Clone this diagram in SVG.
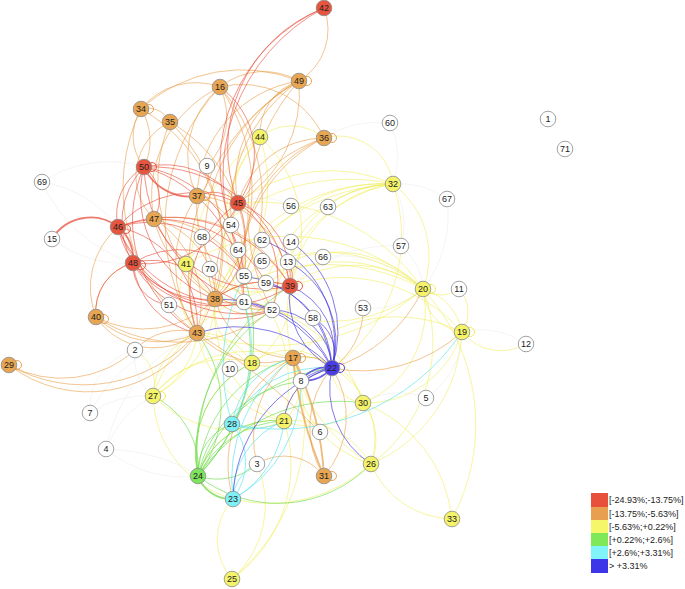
<svg xmlns="http://www.w3.org/2000/svg" width="685" height="589" viewBox="0 0 685 589">
<style>
.e path{fill:none;stroke-width:.85}
.r path{stroke:#e84a36;opacity:.72}
.o path{stroke:#e8993f;opacity:.68}
.y path{stroke:#f0ec48;opacity:.62}
.g path{stroke:#66da44;opacity:.72}
.c path{stroke:#5ee4ee;opacity:.8}
.b path{stroke:#3a2ee0;opacity:.75}
.w path{stroke:#ececec;opacity:.7}
path.t{stroke-width:1.8}
.lp circle{fill:none;stroke-width:.9}
.nd circle{stroke:#8c8c8c;stroke-width:.8}
.R{fill:#e8553f}.O{fill:#e8a552}.Y{fill:#f4f36a}.G{fill:#7ee35d}.C{fill:#7ff0f5}.B{fill:#4b3ee6}.W{fill:#fff}
text{font-family:"Liberation Sans",Arial,sans-serif;font-size:9px;fill:#222}
.nd text{text-anchor:middle}
</style>
<rect width="685" height="589" fill="#fff"/>
<g id="connectors">
<g class="e w">
<path d="M90 413A100 100 0 0 1 153 396"/><path d="M90 413A150 150 0 0 1 197 333"/><path d="M90 413A60 60 0 0 1 135 350"/>
<path d="M106 449A100 100 0 0 1 153 396"/><path d="M106 449A120 120 0 0 0 198 476"/><path d="M106 449A160 160 0 0 1 197 333"/>
<path d="M135 350A50 50 0 0 0 153 396"/><path d="M42 182A120 120 0 0 1 118 227"/><path d="M42 182A120 120 0 0 1 144 167"/>
<path d="M42 182A150 150 0 0 0 133 263"/><path d="M52 239A120 120 0 0 0 133 263"/><path d="M390 123A80 80 0 0 1 393 184"/>
<path d="M390 123A100 100 0 0 0 324 138"/><path d="M447 199A80 80 0 0 0 393 184"/><path d="M447 199A120 120 0 0 1 423 289"/>
<path d="M401 246A60 60 0 0 1 423 289"/><path d="M401 246A80 80 0 0 0 393 184"/><path d="M401 246A150 150 0 0 0 290 286"/>
<path d="M526 344A80 80 0 0 0 462 332"/><path d="M426 398A80 80 0 0 0 462 332"/><path d="M426 398A70 70 0 0 0 363 403"/>
<path d="M363 308A80 80 0 0 0 423 289"/><path d="M328 207A90 90 0 0 1 393 184"/><path d="M291 206A60 60 0 0 0 238 203"/>
<path d="M291 242A60 60 0 0 1 290 286"/><path d="M323 257A120 120 0 0 1 423 289"/><path d="M230 369A50 50 0 0 1 197 333"/>
<path d="M169 305A40 40 0 0 1 197 333"/><path d="M106 449A200 200 0 0 1 233 499"/>
</g>
<g class="e y">
<path d="M260 137A50 50 0 0 1 324 138"/><path d="M324 138A55 55 0 0 1 393 184"/><path d="M260 137A120 120 0 0 0 244 276"/>
<path d="M260 137A180 180 0 0 0 197 333"/><path d="M260 137A150 150 0 0 1 215 299"/><path d="M260 137A130 130 0 0 1 290 286"/>
<path d="M260 137A140 140 0 0 0 244 302"/><path d="M393 184A150 150 0 0 0 244 276"/><path d="M393 184A120 120 0 0 0 290 286"/>
<path d="M393 184A140 140 0 0 0 266 283"/><path d="M393 184A150 150 0 0 0 272 310"/><path d="M393 184A180 180 0 0 0 215 299"/>
<path d="M393 184A220 220 0 0 0 197 333"/><path d="M393 184A110 110 0 0 0 288 262"/><path d="M393 184A200 200 0 0 0 186 264"/>
<path d="M393 184A90 90 0 0 1 423 289"/><path d="M393 184A160 160 0 0 1 332 368"/><path d="M393 184A150 150 0 0 0 238 203"/>
<path d="M423 289A30 30 0 0 0 459 289"/><path d="M423 289A45 45 0 0 0 462 332"/><path d="M423 289A55 55 0 0 1 462 332"/>
<path d="M462 332A35 35 0 0 0 459 289"/><path d="M462 332A50 50 0 0 0 526 344"/><path d="M423 289A150 150 0 0 0 244 276"/>
<path d="M423 289A110 110 0 0 0 290 286"/><path d="M423 289A120 120 0 0 0 288 262"/><path d="M423 289A140 140 0 0 0 266 283"/>
<path d="M423 289A150 150 0 0 1 272 310"/><path d="M423 289A200 200 0 0 0 215 299"/><path d="M423 289A230 230 0 0 1 197 333"/>
<path d="M423 289A100 100 0 0 1 363 403"/><path d="M423 289A150 150 0 0 1 371 464"/><path d="M423 289A200 200 0 0 0 238 203"/>
<path d="M462 332A100 100 0 0 1 363 403"/><path d="M462 332A150 150 0 0 1 371 464"/><path d="M462 332A150 150 0 0 0 293 358"/>
<path d="M462 332A160 160 0 0 0 290 286"/><path d="M363 403A60 60 0 0 1 371 464"/><path d="M363 403A35 35 0 0 1 332 368"/>
<path d="M363 403A70 70 0 0 1 284 421"/><path d="M363 403A60 60 0 0 0 293 358"/><path d="M363 403A150 150 0 0 0 215 299"/>
<path d="M371 464A90 90 0 0 0 452 519"/><path d="M423 289A200 200 0 0 1 452 519"/><path d="M363 403A140 140 0 0 1 452 519"/>
<path d="M371 464A110 110 0 0 1 293 358"/><path d="M371 464A80 80 0 0 0 332 368"/><path d="M371 464A90 90 0 0 0 284 421"/>
<path d="M371 464A170 170 0 0 1 290 286"/><path d="M371 464A150 150 0 0 1 233 499"/><path d="M284 421A50 50 0 0 0 293 358"/>
<path d="M284 421A80 80 0 0 0 198 476"/><path d="M284 421A120 120 0 0 1 215 299"/><path d="M284 421A110 110 0 0 1 197 333"/>
<path d="M284 421A150 150 0 0 0 244 276"/><path d="M284 421A60 60 0 0 1 332 368"/><path d="M252 363A60 60 0 0 1 215 299"/>
<path d="M252 363A40 40 0 0 0 293 358"/><path d="M252 363A60 60 0 0 0 197 333"/><path d="M252 363A80 80 0 0 0 290 286"/>
<path d="M252 363A100 100 0 0 0 198 476"/><path d="M252 363A60 60 0 0 1 332 368"/><path d="M153 396A40 40 0 0 0 135 350"/>
<path d="M153 396A70 70 0 0 1 197 333"/><path d="M153 396A80 80 0 0 0 197 333"/><path d="M153 396A110 110 0 0 0 215 299"/>
<path d="M153 396A130 130 0 0 1 293 358"/><path d="M153 396A90 90 0 0 1 252 363"/><path d="M153 396A120 120 0 0 0 284 421"/>
<path d="M153 396A110 110 0 0 0 233 499"/><path d="M153 396A160 160 0 0 1 290 286"/><path d="M232 579A60 60 0 0 1 233 499"/>
<path d="M232 579A140 140 0 0 0 284 421"/><path d="M232 579A200 200 0 0 0 293 358"/><path d="M232 579A100 100 0 0 0 257 464"/>
<path d="M186 264A100 100 0 0 0 290 286"/><path d="M186 264A60 60 0 0 0 197 333"/><path d="M186 264A90 90 0 0 0 272 310"/>
<path d="M186 264A200 200 0 0 1 423 289"/>
</g>
<g class="e o">
<path d="M141 109A70 70 0 0 1 220 87"/><path d="M141 109A150 150 0 0 1 299 81"/><path d="M220 87A90 90 0 0 1 324 138"/>
<path d="M141 109A25 25 0 0 1 170 122"/><path d="M141 109A50 50 0 0 0 144 167"/><path d="M141 109A60 60 0 0 1 144 167"/>
<path d="M141 109A180 180 0 0 0 197 333"/><path d="M141 109A160 160 0 0 1 215 299"/><path d="M170 122A170 170 0 0 1 197 333"/>
<path d="M170 122A150 150 0 0 0 215 299"/><path d="M170 122A150 150 0 0 1 244 276"/><path d="M220 87A90 90 0 0 0 197 196"/>
<path d="M220 87A70 70 0 0 1 207 166"/><path d="M220 87A200 200 0 0 0 197 333"/><path d="M220 87A180 180 0 0 1 215 299"/>
<path d="M220 87A170 170 0 0 1 244 276"/><path d="M299 81A60 60 0 0 0 324 8"/><path d="M299 81A70 70 0 0 0 220 87"/>
<path d="M299 81A55 55 0 0 0 260 137"/><path d="M299 81A110 110 0 0 0 238 203"/><path d="M299 81A130 130 0 0 1 238 203"/>
<path d="M299 81A120 120 0 0 0 197 196"/><path d="M299 81A180 180 0 0 0 215 299"/><path d="M299 81A160 160 0 0 0 244 276"/>
<path d="M299 81A220 220 0 0 0 197 333"/><path d="M324 138A130 130 0 0 0 244 276"/><path d="M324 138A150 150 0 0 0 244 302"/>
<path d="M324 138A160 160 0 0 0 215 299"/><path d="M324 138A90 90 0 0 0 238 203"/><path d="M197 196A100 100 0 0 1 290 286"/>
<path d="M197 196A120 120 0 0 0 197 333"/><path d="M197 196A70 70 0 0 1 244 276"/><path d="M197 196A110 110 0 0 0 272 310"/>
<path d="M197 196A25 25 0 0 0 207 166"/><path d="M154 219A100 100 0 0 1 197 333"/><path d="M154 219A130 130 0 0 1 290 286"/>
<path d="M154 219A120 120 0 0 0 272 310"/><path d="M154 219A80 80 0 0 1 215 299"/><path d="M154 219A100 100 0 0 1 244 276"/>
<path d="M96 317A90 90 0 0 0 197 333"/><path d="M96 317A70 70 0 0 0 197 333"/><path d="M96 317A80 80 0 0 1 118 227"/>
<path d="M96 317A50 50 0 0 1 133 263"/><path d="M96 317A100 100 0 0 0 215 299"/><path d="M96 317A150 150 0 0 0 272 310"/>
<path d="M9 365A150 150 0 0 0 197 333"/><path d="M9 365A130 130 0 0 0 197 333"/><path d="M9 365A110 110 0 0 0 135 350"/>
<path d="M197 333A60 60 0 0 0 135 350"/><path d="M215 299A50 50 0 0 0 272 310"/><path d="M215 299A80 80 0 0 1 290 286"/>
<path d="M197 333A90 90 0 0 0 293 358"/><path d="M197 333A600 600 0 0 1 320 432"/><path class="t" d="M293 358A300 300 0 0 1 324 476"/>
<path class="t" d="M293 358A400 400 0 0 0 324 476"/><path d="M293 358A30 30 0 0 1 301 381"/><path d="M293 358A40 40 0 0 1 332 368"/>
<path d="M293 358A120 120 0 0 0 233 499"/><path d="M293 358A100 100 0 0 0 257 464"/><path d="M324 476A50 50 0 0 0 257 464"/>
<path d="M324 476A90 90 0 0 1 332 368"/><path d="M324 476A90 90 0 0 0 332 368"/><path d="M423 289A150 150 0 0 1 332 368"/>
<path d="M462 332A150 150 0 0 1 332 368"/><path d="M363 308A70 70 0 0 1 332 368"/><path d="M170 122A60 60 0 0 0 154 219"/>
<path d="M220 87A120 120 0 0 0 154 219"/><path d="M299 81A200 200 0 0 0 272 310"/><path d="M215 299A80 80 0 0 0 293 358"/>
</g>
<g class="e r">
<path d="M324 8A150 150 0 0 0 238 203"/><path d="M324 8A170 170 0 0 0 231 225"/><path d="M324 8A190 190 0 0 0 238 250"/>
<path d="M238 203A82 82 0 0 0 220 87"/><path class="t" d="M144 167A50 50 0 0 0 197 196"/><path class="t" d="M118 227A45 45 0 0 0 52 239"/>
<path d="M144 167A55 55 0 0 0 118 227"/><path d="M144 167A80 80 0 0 0 133 263"/><path d="M144 167A140 140 0 0 1 290 286"/>
<path d="M144 167A120 120 0 0 1 244 276"/><path d="M144 167A110 110 0 0 0 215 299"/><path d="M144 167A130 130 0 0 0 197 333"/>
<path d="M144 167A140 140 0 0 1 244 302"/><path d="M118 227A140 140 0 0 1 290 286"/><path d="M118 227A110 110 0 0 1 244 276"/>
<path d="M118 227A130 130 0 0 0 272 310"/><path d="M118 227A90 90 0 0 0 215 299"/><path d="M118 227A120 120 0 0 1 266 283"/>
<path d="M133 263A120 120 0 0 0 290 286"/><path d="M133 263A110 110 0 0 0 272 310"/><path d="M133 263A100 100 0 0 0 244 302"/>
<path d="M133 263A80 80 0 0 0 197 333"/><path d="M133 263A40 40 0 0 0 169 305"/><path d="M133 263A50 50 0 0 0 96 317"/>
<path d="M238 203A80 80 0 0 1 290 286"/><path d="M238 203A100 100 0 0 0 118 227"/><path d="M238 203A100 100 0 0 1 133 263"/>
<path d="M238 203A110 110 0 0 0 197 333"/><path d="M238 203A80 80 0 0 1 215 299"/><path d="M238 203A90 90 0 0 1 272 310"/>
<path d="M290 286A120 120 0 0 1 154 219"/><path d="M144 167A40 40 0 0 1 154 219"/><path d="M238 203A35 35 0 0 0 197 196"/>
<path d="M118 227A100 100 0 0 1 197 333"/><path d="M133 263A90 90 0 0 1 244 276"/><path d="M118 227A120 120 0 0 0 244 302"/>
<path d="M144 167A150 150 0 0 0 272 310"/><path d="M133 263A70 70 0 0 1 215 299"/><path class="t" d="M118 227A40 40 0 0 1 133 263"/>
<path d="M290 286A25 25 0 0 0 288 262"/><path d="M290 286A30 30 0 0 1 266 283"/><path d="M290 286A80 80 0 0 0 215 299"/>
<path d="M144 167A90 90 0 0 1 238 203"/>
</g>
<g class="e g">
<path d="M198 476A50 50 0 0 1 232 424"/><path d="M198 476A80 80 0 0 1 284 421"/><path d="M198 476A100 100 0 0 1 284 421"/>
<path d="M198 476A120 120 0 0 1 301 381"/><path d="M198 476A130 130 0 0 1 293 358"/><path d="M198 476A160 160 0 0 1 332 368"/>
<path class="t" d="M198 476A35 35 0 0 0 233 499"/><path d="M198 476A130 130 0 0 0 371 464"/><path d="M198 476A120 120 0 0 0 197 333"/>
<path d="M198 476A80 80 0 0 0 153 396"/><path d="M198 476A200 200 0 0 1 290 286"/><path d="M198 476A170 170 0 0 1 272 310"/>
<path d="M198 476A100 100 0 0 1 252 363"/><path d="M198 476A170 170 0 0 1 363 403"/><path d="M198 476A60 60 0 0 0 257 464"/>
<path d="M198 476A200 200 0 0 0 244 276"/><path d="M198 476A180 180 0 0 0 244 302"/>
</g>
<g class="e c">
<path d="M233 499A60 60 0 0 0 232 424"/><path d="M233 499A80 80 0 0 1 284 421"/><path d="M233 499A100 100 0 0 0 284 421"/>
<path d="M233 499A40 40 0 0 1 257 464"/><path d="M233 499A130 130 0 0 0 301 381"/><path d="M232 424A60 60 0 0 0 284 421"/>
<path d="M232 424A80 80 0 0 1 293 358"/><path d="M232 424A200 200 0 0 1 244 276"/><path d="M462 332A220 220 0 0 1 232 424"/>
<path d="M232 424A100 100 0 0 1 332 368"/><path d="M233 499A150 150 0 0 1 293 358"/><path d="M232 424A150 150 0 0 0 244 302"/>
</g>
<g class="e b">
<path class="t" d="M332 368A30 30 0 0 0 301 381"/><path class="t" d="M332 368A40 40 0 0 1 301 381"/><path d="M332 368A60 60 0 0 0 301 381"/>
<path d="M332 368A70 70 0 0 0 290 286"/><path d="M332 368A90 90 0 0 0 288 262"/><path d="M332 368A40 40 0 0 0 313 318"/>
<path d="M332 368A110 110 0 0 0 262 240"/><path d="M332 368A110 110 0 0 0 291 242"/><path d="M332 368A130 130 0 0 0 197 333"/>
<path d="M332 368A130 130 0 0 0 215 299"/><path d="M332 368A60 60 0 0 0 272 310"/><path d="M332 368A100 100 0 0 0 244 276"/>
<path d="M332 368A90 90 0 0 0 371 464"/><path d="M332 368A140 140 0 0 0 233 499"/><path d="M332 368A60 60 0 0 0 284 421"/>
<path d="M332 368A90 90 0 0 0 266 283"/><path d="M332 368A110 110 0 0 0 244 302"/><path d="M332 368A80 80 0 0 1 290 286"/>
</g>
<g class="lp">
<circle cx="149" cy="109" r="4.5" stroke="#e89a44"/><circle cx="307" cy="81" r="4.5" stroke="#e89a44"/><circle cx="332" cy="138" r="4.5" stroke="#e89a44"/>
<circle cx="152" cy="167" r="4.5" stroke="#e84a36"/><circle cx="126" cy="229" r="4.5" stroke="#e84a36"/><circle cx="141" cy="265" r="4.5" stroke="#e84a36"/>
<circle cx="104" cy="319" r="4.5" stroke="#e89a44"/><circle cx="17" cy="365" r="4.5" stroke="#e89a44"/><circle cx="340" cy="368" r="4.5" stroke="#3a2ee0"/>
<circle cx="332" cy="476" r="4.5" stroke="#e89a44"/><circle cx="470" cy="332" r="4.5" stroke="#eeea4c"/><circle cx="301" cy="358" r="4.5" stroke="#e89a44"/>
<circle cx="161" cy="396" r="4.5" stroke="#eeea4c"/><circle cx="205" cy="196" r="4.5" stroke="#e89a44"/><circle cx="298" cy="286" r="4.5" stroke="#e84a36"/>
<circle cx="431" cy="289" r="4.5" stroke="#eeea4c"/>
</g>
</g>
<g id="nodes">
<g id="n1" class="nd"><circle class="W" cx="548" cy="119" r="7.8"/><text x="548" y="122.2">1</text></g>
<g id="n2" class="nd"><circle class="W" cx="135" cy="350" r="7.8"/><text x="135" y="353.2">2</text></g>
<g id="n3" class="nd"><circle class="W" cx="257" cy="464" r="7.8"/><text x="257" y="467.2">3</text></g>
<g id="n4" class="nd"><circle class="W" cx="106" cy="449" r="7.8"/><text x="106" y="452.2">4</text></g>
<g id="n5" class="nd"><circle class="W" cx="426" cy="398" r="7.8"/><text x="426" y="401.2">5</text></g>
<g id="n6" class="nd"><circle class="W" cx="320" cy="432" r="7.8"/><text x="320" y="435.2">6</text></g>
<g id="n7" class="nd"><circle class="W" cx="90" cy="413" r="7.8"/><text x="90" y="416.2">7</text></g>
<g id="n8" class="nd"><circle class="W" cx="301" cy="381" r="7.8"/><text x="301" y="384.2">8</text></g>
<g id="n9" class="nd"><circle class="W" cx="207" cy="166" r="7.8"/><text x="207" y="169.2">9</text></g>
<g id="n10" class="nd"><circle class="W" cx="230" cy="369" r="7.8"/><text x="230" y="372.2">10</text></g>
<g id="n11" class="nd"><circle class="W" cx="459" cy="289" r="7.8"/><text x="459" y="292.2">11</text></g>
<g id="n12" class="nd"><circle class="W" cx="526" cy="344" r="7.8"/><text x="526" y="347.2">12</text></g>
<g id="n13" class="nd"><circle class="W" cx="288" cy="262" r="7.8"/><text x="288" y="265.2">13</text></g>
<g id="n14" class="nd"><circle class="W" cx="291" cy="242" r="7.8"/><text x="291" y="245.2">14</text></g>
<g id="n15" class="nd"><circle class="W" cx="52" cy="239" r="7.8"/><text x="52" y="242.2">15</text></g>
<g id="n16" class="nd"><circle class="O" cx="220" cy="87" r="7.8"/><text x="220" y="90.2">16</text></g>
<g id="n17" class="nd"><circle class="O" cx="293" cy="358" r="7.8"/><text x="293" y="361.2">17</text></g>
<g id="n18" class="nd"><circle class="Y" cx="252" cy="363" r="7.8"/><text x="252" y="366.2">18</text></g>
<g id="n19" class="nd"><circle class="Y" cx="462" cy="332" r="7.8"/><text x="462" y="335.2">19</text></g>
<g id="n20" class="nd"><circle class="Y" cx="423" cy="289" r="7.8"/><text x="423" y="292.2">20</text></g>
<g id="n21" class="nd"><circle class="Y" cx="284" cy="421" r="7.8"/><text x="284" y="424.2">21</text></g>
<g id="n22" class="nd"><circle class="B" cx="332" cy="368" r="7.8"/><text x="332" y="371.2">22</text></g>
<g id="n23" class="nd"><circle class="C" cx="233" cy="499" r="7.8"/><text x="233" y="502.2">23</text></g>
<g id="n24" class="nd"><circle class="G" cx="198" cy="476" r="7.8"/><text x="198" y="479.2">24</text></g>
<g id="n25" class="nd"><circle class="Y" cx="232" cy="579" r="7.8"/><text x="232" y="582.2">25</text></g>
<g id="n26" class="nd"><circle class="Y" cx="371" cy="464" r="7.8"/><text x="371" y="467.2">26</text></g>
<g id="n27" class="nd"><circle class="Y" cx="153" cy="396" r="7.8"/><text x="153" y="399.2">27</text></g>
<g id="n28" class="nd"><circle class="C" cx="232" cy="424" r="7.8"/><text x="232" y="427.2">28</text></g>
<g id="n29" class="nd"><circle class="O" cx="9" cy="365" r="7.8"/><text x="9" y="368.2">29</text></g>
<g id="n30" class="nd"><circle class="Y" cx="363" cy="403" r="7.8"/><text x="363" y="406.2">30</text></g>
<g id="n31" class="nd"><circle class="O" cx="324" cy="476" r="7.8"/><text x="324" y="479.2">31</text></g>
<g id="n32" class="nd"><circle class="Y" cx="393" cy="184" r="7.8"/><text x="393" y="187.2">32</text></g>
<g id="n33" class="nd"><circle class="Y" cx="452" cy="519" r="7.8"/><text x="452" y="522.2">33</text></g>
<g id="n34" class="nd"><circle class="O" cx="141" cy="109" r="7.8"/><text x="141" y="112.2">34</text></g>
<g id="n35" class="nd"><circle class="O" cx="170" cy="122" r="7.8"/><text x="170" y="125.2">35</text></g>
<g id="n36" class="nd"><circle class="O" cx="324" cy="138" r="7.8"/><text x="324" y="141.2">36</text></g>
<g id="n37" class="nd"><circle class="O" cx="197" cy="196" r="7.8"/><text x="197" y="199.2">37</text></g>
<g id="n38" class="nd"><circle class="O" cx="215" cy="299" r="7.8"/><text x="215" y="302.2">38</text></g>
<g id="n39" class="nd"><circle class="R" cx="290" cy="286" r="7.8"/><text x="290" y="289.2">39</text></g>
<g id="n40" class="nd"><circle class="O" cx="96" cy="317" r="7.8"/><text x="96" y="320.2">40</text></g>
<g id="n41" class="nd"><circle class="Y" cx="186" cy="264" r="7.8"/><text x="186" y="267.2">41</text></g>
<g id="n42" class="nd"><circle class="R" cx="324" cy="8" r="7.8"/><text x="324" y="11.2">42</text></g>
<g id="n43" class="nd"><circle class="O" cx="197" cy="333" r="7.8"/><text x="197" y="336.2">43</text></g>
<g id="n44" class="nd"><circle class="Y" cx="260" cy="137" r="7.8"/><text x="260" y="140.2">44</text></g>
<g id="n45" class="nd"><circle class="R" cx="238" cy="203" r="7.8"/><text x="238" y="206.2">45</text></g>
<g id="n46" class="nd"><circle class="R" cx="118" cy="227" r="7.8"/><text x="118" y="230.2">46</text></g>
<g id="n47" class="nd"><circle class="O" cx="154" cy="219" r="7.8"/><text x="154" y="222.2">47</text></g>
<g id="n48" class="nd"><circle class="R" cx="133" cy="263" r="7.8"/><text x="133" y="266.2">48</text></g>
<g id="n49" class="nd"><circle class="O" cx="299" cy="81" r="7.8"/><text x="299" y="84.2">49</text></g>
<g id="n50" class="nd"><circle class="R" cx="144" cy="167" r="7.8"/><text x="144" y="170.2">50</text></g>
<g id="n51" class="nd"><circle class="W" cx="169" cy="305" r="7.8"/><text x="169" y="308.2">51</text></g>
<g id="n52" class="nd"><circle class="W" cx="272" cy="310" r="7.8"/><text x="272" y="313.2">52</text></g>
<g id="n53" class="nd"><circle class="W" cx="363" cy="308" r="7.8"/><text x="363" y="311.2">53</text></g>
<g id="n54" class="nd"><circle class="W" cx="231" cy="225" r="7.8"/><text x="231" y="228.2">54</text></g>
<g id="n55" class="nd"><circle class="W" cx="244" cy="276" r="7.8"/><text x="244" y="279.2">55</text></g>
<g id="n56" class="nd"><circle class="W" cx="291" cy="206" r="7.8"/><text x="291" y="209.2">56</text></g>
<g id="n57" class="nd"><circle class="W" cx="401" cy="246" r="7.8"/><text x="401" y="249.2">57</text></g>
<g id="n58" class="nd"><circle class="W" cx="313" cy="318" r="7.8"/><text x="313" y="321.2">58</text></g>
<g id="n59" class="nd"><circle class="W" cx="266" cy="283" r="7.8"/><text x="266" y="286.2">59</text></g>
<g id="n60" class="nd"><circle class="W" cx="390" cy="123" r="7.8"/><text x="390" y="126.2">60</text></g>
<g id="n61" class="nd"><circle class="W" cx="244" cy="302" r="7.8"/><text x="244" y="305.2">61</text></g>
<g id="n62" class="nd"><circle class="W" cx="262" cy="240" r="7.8"/><text x="262" y="243.2">62</text></g>
<g id="n63" class="nd"><circle class="W" cx="328" cy="207" r="7.8"/><text x="328" y="210.2">63</text></g>
<g id="n64" class="nd"><circle class="W" cx="238" cy="250" r="7.8"/><text x="238" y="253.2">64</text></g>
<g id="n65" class="nd"><circle class="W" cx="262" cy="261" r="7.8"/><text x="262" y="264.2">65</text></g>
<g id="n66" class="nd"><circle class="W" cx="323" cy="257" r="7.8"/><text x="323" y="260.2">66</text></g>
<g id="n67" class="nd"><circle class="W" cx="447" cy="199" r="7.8"/><text x="447" y="202.2">67</text></g>
<g id="n68" class="nd"><circle class="W" cx="202" cy="237" r="7.8"/><text x="202" y="240.2">68</text></g>
<g id="n69" class="nd"><circle class="W" cx="42" cy="182" r="7.8"/><text x="42" y="185.2">69</text></g>
<g id="n70" class="nd"><circle class="W" cx="210" cy="269" r="7.8"/><text x="210" y="272.2">70</text></g>
<g id="n71" class="nd"><circle class="W" cx="565" cy="149" r="7.8"/><text x="565" y="152.2">71</text></g>
</g>
<g id="legend">
<rect x="591" y="493" width="17" height="14" fill="#e8503c"/>
<rect x="591" y="507" width="17" height="13" fill="#e8a050"/>
<rect x="591" y="520" width="17" height="13" fill="#f6f66a"/>
<rect x="591" y="533" width="17" height="13" fill="#7ee858"/>
<rect x="591" y="546" width="17" height="13" fill="#80f4f8"/>
<rect x="591" y="559" width="17" height="14" fill="#3d36e8"/>
<text x="609" y="503">[-24.93%;-13.75%]</text>
<text x="609" y="516.5">[-13.75%;-5.63%]</text>
<text x="609" y="529.5">[-5.63%;+0.22%]</text>
<text x="609" y="542.5">[+0.22%;+2.6%]</text>
<text x="609" y="555.5">[+2.6%;+3.31%]</text>
<text x="609" y="569">&gt; +3.31%</text>
</g>
</svg>
